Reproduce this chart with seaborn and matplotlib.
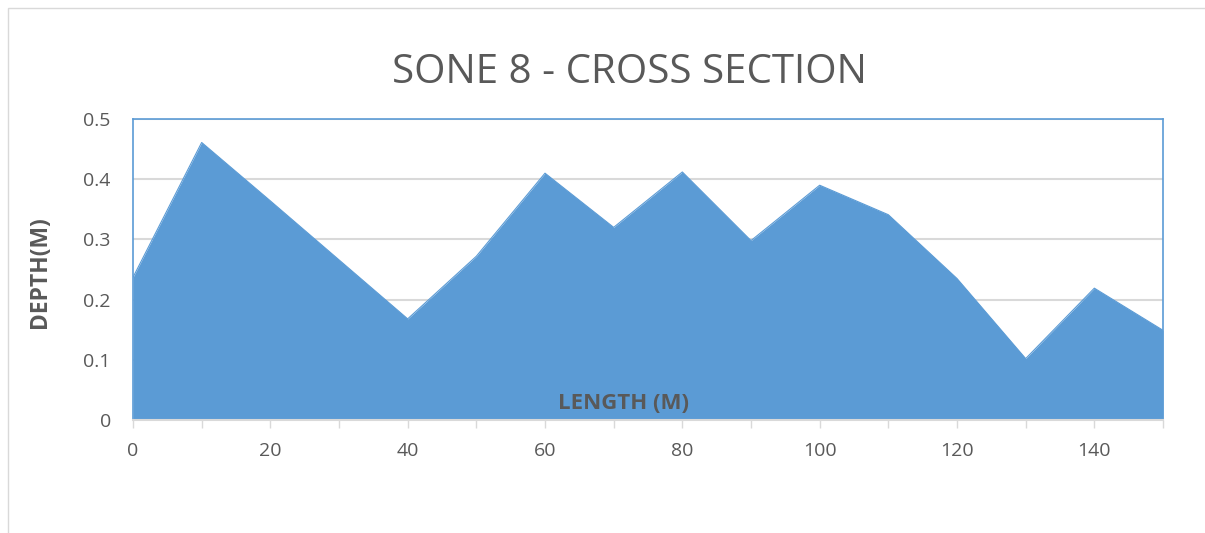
import matplotlib
matplotlib.use("Agg")
import matplotlib.pyplot as plt
import seaborn as sns
import numpy as np
import pandas as pd
from matplotlib.patches import Rectangle

length_m = [0, 10, 20, 30, 40, 50, 60, 70, 80, 90, 100, 110, 120, 130, 140, 150]
depth_m = [0.237, 0.461, 0.364, 0.266, 0.168, 0.272, 0.410, 0.320, 0.412, 0.298,
           0.390, 0.341, 0.235, 0.102, 0.219, 0.149]
x_ticks = [0, 20, 40, 60, 80, 100, 120, 140]
y_ticks = [0, 0.1, 0.2, 0.3, 0.4, 0.5]
y_tick_labels = ["0", "0.1", "0.2", "0.3", "0.4", "0.5"]

sns.set_theme(style="white")
plt.rcParams['font.family'] = ['Open Sans', 'DejaVu Sans']

fill_color = "#5B9BD5"
text_color = "#595959"
grid_color = "#D9D9D9"

df = pd.DataFrame({"length": length_m, "depth": depth_m})

fig = plt.figure(figsize=(12.05, 5.33), dpi=100)
fig.patch.set_facecolor("white")
fig.patches.append(Rectangle((8 / 1205, -0.1), 1.2, 1 - 8 / 533 + 0.1,
                             transform=fig.transFigure, fill=False,
                             edgecolor="#D9D9D9", linewidth=1))

ax = fig.add_axes([133 / 1205, 1 - 420 / 533, (1163 - 133) / 1205, (420 - 119) / 533])
ax.fill_between(df["length"], 0, df["depth"], color=fill_color, linewidth=0, zorder=2)
sns.lineplot(data=df, x="length", y="depth", ax=ax, color=fill_color, linewidth=0.8, zorder=3)

ax.set_xlim(0, 150)
ax.set_ylim(0, 0.5)
ax.set_yticks(y_ticks)
ax.set_yticklabels(y_tick_labels)
ax.set_xticks(x_ticks)
ax.set_xticks(np.arange(0, 151, 10), minor=True)
ax.yaxis.grid(True, color=grid_color, linewidth=1.5, zorder=1)
ax.set_axisbelow(True)

for side in ["top", "right", "left"]:
    ax.spines[side].set_color(fill_color)
    ax.spines[side].set_linewidth(1.2)
ax.spines["bottom"].set_color(grid_color)
ax.spines["bottom"].set_linewidth(1.5)
ax.spines["bottom"].set_zorder(4)

ax.tick_params(axis="x", which="both", direction="out", length=6, width=1,
               color=grid_color, bottom=True, labelsize=14, labelcolor=text_color, pad=10)
ax.tick_params(axis="y", length=0, labelsize=14, labelcolor=text_color, pad=16)

ax.set_xlabel("")
ax.set_ylabel("")
ax.text(0.476, 0.056, "LENGTH (M)", transform=ax.transAxes, ha="center", va="center",
        fontsize=16, fontweight="bold", color=text_color, zorder=5)
fig.text(40 / 1205, 1 - 272 / 533, "DEPTH(M)", rotation=90, ha="center", va="center",
         fontsize=16.5, fontweight="bold", color=text_color)
fig.text(629 / 1205, 1 - 73 / 533, "SONE 8 - CROSS SECTION", ha="center", va="center",
         fontsize=29, color=text_color)

fig.savefig("out.png", dpi=100, facecolor="white")
